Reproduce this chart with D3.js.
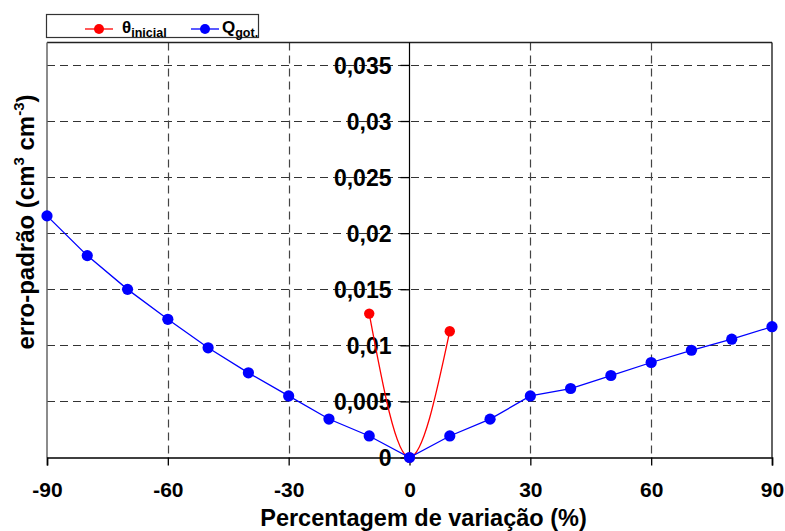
<!DOCTYPE html>
<meta charset="utf-8">
<title>erro-padrao</title>
<head>
    <script src="https://d3js.org/d3.v7.min.js"></script>
</head>
<body style="margin: 0px; background: white">
<script>

    // valores
    var pctQ = [-90, -80, -70, -60, -50, -40, -30, -20, -10, 0, 10, 20, 30, 40, 50, 60, 70, 80, 90]
    var erroQ = [0.02154, 0.01800, 0.01499, 0.01232, 0.00978, 0.00755, 0.00549, 0.00343, 0.00192, 0,
        0.00192, 0.00342, 0.00549, 0.00615, 0.00731, 0.00847, 0.00956, 0.01055, 0.01166]
    var pctTheta = [-10, 0, 10]
    var erroTheta = [0.01283, 0, 0.01126]
    var xTicks = [-90, -60, -30, 0, 30, 60, 90]
    var yTicks = [0, 0.005, 0.01, 0.015, 0.02, 0.025, 0.03, 0.035]
    var yTickLabels = ["0", "0,005", "0,01", "0,015", "0,02", "0,025", "0,03", "0,035"]

    var width = 785,
            height = 531,
            pLeft = 47, pRight = 772, pTop = 42.5, pBottom = 457.5;
    var font = "Arial, 'Liberation Sans', sans-serif";

    var x = d3.scaleLinear().domain([-90, 90]).range([pLeft, pRight])
    var y = d3.scaleLinear().domain([0, 0.037]).range([pBottom, pTop])

    var svg = d3.select("body").append("svg")
            .attr("width", width)
            .attr("height", height)
            .style("font-family", font)
            .style("font-weight", "bold")

    // grade tracejada
    svg.append("g").selectAll("line").data(yTicks.slice(1)).enter().append("line")
            .attr("x1", pLeft).attr("x2", pRight)
            .attr("y1", function (d) { return Math.round(y(d)) + 0.5 })
            .attr("y2", function (d) { return Math.round(y(d)) + 0.5 })
            .attr("stroke", "#333").attr("stroke-width", 1).attr("stroke-dasharray", "8,5")
    svg.append("g").selectAll("line").data([-60, -30, 30, 60]).enter().append("line")
            .attr("y1", pTop).attr("y2", pBottom)
            .attr("x1", function (d) { return Math.round(x(d)) + 0.5 })
            .attr("x2", function (d) { return Math.round(x(d)) + 0.5 })
            .attr("stroke", "#444").attr("stroke-width", 1.2).attr("stroke-dasharray", "8,5")

    // moldura
    svg.append("line").attr("x1", pLeft).attr("x2", pRight).attr("y1", pTop).attr("y2", pTop)
            .attr("stroke", "#222").attr("stroke-width", 1.5)
    svg.append("line").attr("x1", pLeft).attr("x2", pLeft).attr("y1", pTop).attr("y2", pBottom)
            .attr("stroke", "#666").attr("stroke-width", 1.5)
    svg.append("line").attr("x1", pRight).attr("x2", pRight).attr("y1", pTop).attr("y2", pBottom)
            .attr("stroke", "#111").attr("stroke-width", 1.3)

    // eixo x (embaixo)
    var xAxis = d3.axisBottom(x).tickValues(xTicks).tickSize(8).tickFormat(function (d) { return String(d) })
    var gx = svg.append("g").attr("transform", "translate(0," + pBottom + ")").call(xAxis)
    gx.select(".domain").attr("stroke", "#000").attr("stroke-width", 1.6)
    gx.selectAll(".tick line").attr("stroke", "#000").attr("stroke-width", 1.3)
    gx.selectAll("text").attr("y", 25).attr("dy", "0.71em")
            .style("font-family", font).style("font-size", "21px").style("font-weight", "bold").attr("fill", "#000")

    // eixo y no zero
    var yAxis = d3.axisLeft(y).tickValues(yTicks).tickSize(9)
            .tickFormat(function (d, i) { return yTickLabels[i] })
    var gy = svg.append("g").attr("transform", "translate(" + x(0) + ",0)").call(yAxis)
    gy.select(".domain").attr("d", "M0," + pTop + "V" + pBottom).attr("stroke", "#000").attr("stroke-width", 1.2)
    gy.selectAll(".tick line").attr("stroke", "#000").attr("stroke-width", 1.3)
    gy.selectAll("text").attr("x", -18).attr("dy", "0.36em")
            .style("font-family", font).style("font-size", "23px").style("font-weight", "bold").attr("fill", "#000")

    // series
    var lineQ = d3.line().x(function (d) { return x(d[0]) }).y(function (d) { return y(d[1]) })
    var lineT = d3.line().curve(d3.curveMonotoneX).x(function (d) { return x(d[0]) }).y(function (d) { return y(d[1]) })

    var dataQ = pctQ.map(function (p, i) { return [p, erroQ[i]] })
    var dataT = pctTheta.map(function (p, i) { return [p, erroTheta[i]] })

    svg.append("path").datum(dataT).attr("d", lineT).attr("fill", "none").attr("stroke", "#ff0000").attr("stroke-width", 1.3)
    svg.append("g").selectAll("circle").data(dataT).enter().append("circle")
            .attr("cx", function (d) { return x(d[0]) }).attr("cy", function (d) { return y(d[1]) })
            .attr("r", 5.2).attr("fill", "#ff0000")

    svg.append("path").datum(dataQ).attr("d", lineQ).attr("fill", "none").attr("stroke", "#0000ff").attr("stroke-width", 1.3)
    svg.append("g").selectAll("circle").data(dataQ).enter().append("circle")
            .attr("cx", function (d) { return x(d[0]) }).attr("cy", function (d) { return y(d[1]) })
            .attr("r", 5.6).attr("fill", "#0000ff")

    // legenda
    svg.append("rect").attr("x", 46.5).attr("y", 14.5).attr("width", 212).attr("height", 23)
            .attr("fill", "white").attr("stroke", "#333").attr("stroke-width", 1.2)
    var leg = [{c: "#ff0000", x: 85, tx: 122, main: "θ", sub: "inicial"},
        {c: "#0000ff", x: 191, tx: 222, main: "Q", sub: "got."}]
    leg.forEach(function (l) {
        svg.append("line").attr("x1", l.x).attr("x2", l.x + 28).attr("y1", 29).attr("y2", 29)
                .attr("stroke", l.c).attr("stroke-width", 1.3)
        svg.append("circle").attr("cx", l.x + 14).attr("cy", 29).attr("r", 5).attr("fill", l.c)
        var t = svg.append("text").attr("x", l.tx).attr("y", 33).style("font-size", "17px")
        t.append("tspan").text(l.main)
        t.append("tspan").attr("dy", 4).style("font-size", "12.5px").text(l.sub)
    })

    // titulos
    svg.append("text").attr("x", x(0) + 14).attr("y", 526).attr("text-anchor", "middle")
            .style("font-size", "23.5px").text("Percentagem de variação (%)")
    var yt = svg.append("text").attr("transform", "translate(34,222) rotate(-90)").attr("text-anchor", "middle")
            .style("font-size", "24px")
    yt.append("tspan").text("erro-padrão (cm")
    yt.append("tspan").attr("dy", -10).style("font-size", "15px").text("3")
    yt.append("tspan").attr("dy", 10).text(" cm")
    yt.append("tspan").attr("dy", -10).style("font-size", "15px").text("-3")
    yt.append("tspan").attr("dy", 10).text(")")

</script>
</body>
